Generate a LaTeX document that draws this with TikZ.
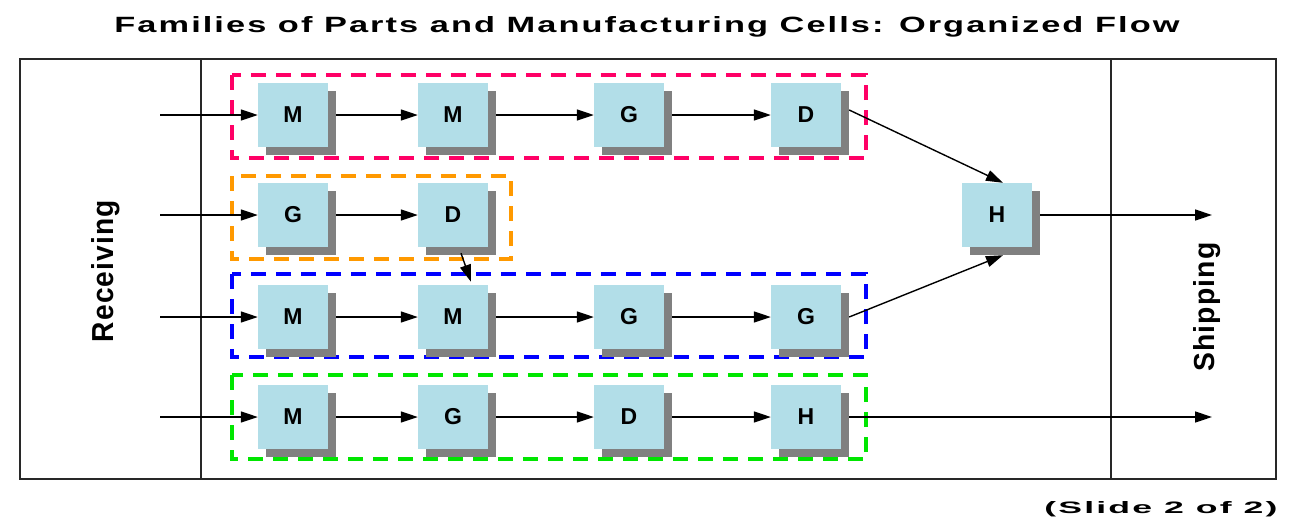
\documentclass[tikz,border=0pt]{standalone}
\usepackage{fontspec}
\setmainfont{Liberation Sans}
\usetikzlibrary{arrows.meta,shadows}
\definecolor{boxfill}{RGB}{178,222,232}
\definecolor{shadowgray}{RGB}{128,128,128}
\definecolor{framegray}{RGB}{40,40,40}
\definecolor{cellpink}{RGB}{255,0,102}
\definecolor{cellorange}{RGB}{255,153,0}
\definecolor{cellblue}{RGB}{0,0,255}
\definecolor{cellgreen}{RGB}{0,230,0}
\begin{document}
\begin{tikzpicture}[x=1pt,y=-1pt,
  mach/.style={fill=boxfill, minimum width=70pt, minimum height=64pt, inner sep=0pt,
    font=\fontsize{23}{23}\selectfont\bfseries,
    drop shadow={shadow xshift=8pt, shadow yshift=-8pt, fill=shadowgray, opacity=1}},
  flow/.style={line width=1.4pt, -{Triangle[length=17pt,width=11pt]}},
  cell/.style={dash pattern=on 15pt off 10pt, line width=3.4pt},
  frame/.style={draw=framegray, line width=1.6pt},
  lab/.style={inner sep=0pt, font=\bfseries}]
\useasboundingbox (0,0) rectangle (1291,520);
% frame
\draw[frame] (20,59) rectangle (1276,479);
\draw[frame] (201,59) -- (201,479);
\draw[frame] (1111,59) -- (1111,479);
% title and labels
\node[lab, anchor=base] (title) at (647,32) {\resizebox{1065pt}{16pt}{\addfontfeature{LetterSpace=6}Families of Parts and Manufacturing Cells: Organized Flow}};
\node[lab, anchor=base] (slide) at (1161,513) {\resizebox{233pt}{12pt}{\addfontfeature{LetterSpace=6}(Slide 2 of 2)}};
\node[lab, rotate=90, anchor=base] (recv) at (113,271) {\resizebox{142pt}{22pt}{\addfontfeature{LetterSpace=4}Receiving}};
\node[lab, rotate=90, anchor=base] (ship) at (1214,307) {\resizebox{129pt}{21pt}{\addfontfeature{LetterSpace=4}Shipping}};
% cells
\draw[cell, cellpink] (232,75) rectangle (866,158);
\draw[cell, cellorange] (232,176) rectangle (511,259);
\draw[cell, cellblue] (232,274) rectangle (866,357);
\draw[cell, cellgreen] (232,375) rectangle (866,459);
% machines
\node[mach] (a1) at (293,115) {M};
\node[mach] (a2) at (453,115) {M};
\node[mach] (a3) at (629,115) {G};
\node[mach] (a4) at (806,115) {D};
\node[mach] (b1) at (293,215) {G};
\node[mach] (b2) at (453,215) {D};
\node[mach] (c1) at (293,317) {M};
\node[mach] (c2) at (453,317) {M};
\node[mach] (c3) at (629,317) {G};
\node[mach] (c4) at (806,317) {G};
\node[mach] (d1) at (293,417) {M};
\node[mach] (d2) at (453,417) {G};
\node[mach] (d3) at (629,417) {D};
\node[mach] (d4) at (806,417) {H};
\node[mach] (h) at (997,215) {H};
% entry / exit points
\coordinate (ina) at (160,115);
\coordinate (inb) at (160,215);
\coordinate (inc) at (160,317);
\coordinate (ind) at (160,417);
\coordinate (outh) at (1212,215);
\coordinate (outd) at (1212,417);
% connectors
\draw[flow] (ina) -- (a1.west);
\draw[flow] (inb) -- (b1.west);
\draw[flow] (inc) -- (c1.west);
\draw[flow] (ind) -- (d1.west);
\draw[flow] ([xshift=8pt]a1.east) -- (a2.west);
\draw[flow] ([xshift=8pt]a2.east) -- (a3.west);
\draw[flow] ([xshift=8pt]a3.east) -- (a4.west);
\draw[flow] ([xshift=8pt]b1.east) -- (b2.west);
\draw[flow] ([xshift=8pt]c1.east) -- (c2.west);
\draw[flow] ([xshift=8pt]c2.east) -- (c3.west);
\draw[flow] ([xshift=8pt]c3.east) -- (c4.west);
\draw[flow] ([xshift=8pt]d1.east) -- (d2.west);
\draw[flow] ([xshift=8pt]d2.east) -- (d3.west);
\draw[flow] ([xshift=8pt]d3.east) -- (d4.west);
\draw[flow] ([xshift=8pt,yshift=5pt]a4.east) -- ([xshift=6pt]h.north);
\draw[flow] ([xshift=8pt]c4.east) -- ([xshift=6pt,yshift=-8pt]h.south);
\draw[flow] ([xshift=8pt,yshift=-6pt]b2.south) -- ([xshift=18pt,yshift=3pt]c2.north);
\draw[flow] ([xshift=8pt]h.east) -- (outh);
\draw[flow] ([xshift=8pt]d4.east) -- (outd);
\end{tikzpicture}
\end{document}
